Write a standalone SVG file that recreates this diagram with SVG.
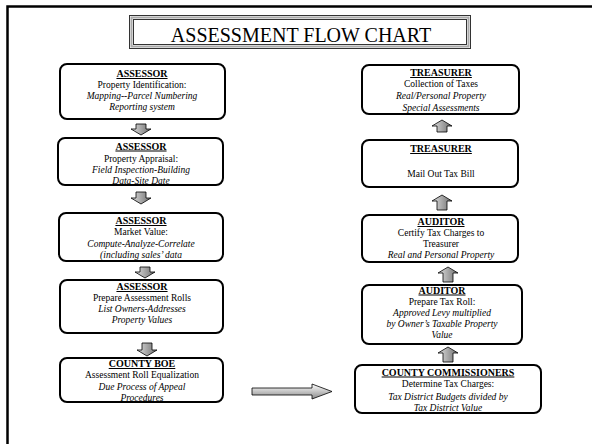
<svg xmlns="http://www.w3.org/2000/svg" width="592" height="444" viewBox="0 0 592 444">
  <style>
    .box { fill: #ffffff; stroke: #000000; stroke-width: 2; }
    .t { font-family: "Liberation Serif", "Times New Roman", serif; font-size: 9.5px; fill: #000000; text-anchor: middle; }
    .h { font-weight: bold; text-decoration: underline; font-size: 10px; }
    .i { font-style: italic; }
    .arrow { stroke: #000000; stroke-width: 0.8; }
  </style>
  <defs>
    <linearGradient id="gradV" x1="0" y1="0" x2="1" y2="0">
      <stop offset="0" stop-color="#e0e0e0"/>
      <stop offset="1" stop-color="#6e6e6e"/>
    </linearGradient>
    <linearGradient id="gradH" x1="0" y1="0" x2="0" y2="1">
      <stop offset="0" stop-color="#ffffff"/>
      <stop offset="1" stop-color="#8a8a8a"/>
    </linearGradient>
  </defs>

  <!-- page background and frame -->
  <rect x="0" y="0" width="592" height="444" fill="#ffffff"/>
  <path d="M7.5 444 V6.5 H592" fill="none" stroke="#000000" stroke-width="2.5"/>

  <!-- title banner -->
  <g id="title">
    <rect x="129.5" y="15.5" width="341" height="33" fill="#ffffff" stroke="#333333" stroke-width="1"/>
    <rect x="131.5" y="17.5" width="337" height="29" fill="none" stroke="#aaaaaa" stroke-width="2"/>
    <rect x="133.5" y="19.5" width="333" height="25" fill="none" stroke="#333333" stroke-width="1"/>
    <text x="301" y="42" font-family="Liberation Serif, Times New Roman, serif" font-size="20" text-anchor="middle">ASSESSMENT FLOW CHART</text>
  </g>

  <!-- left column: assessment steps -->
  <g id="assessor-identification">
    <rect class="box" x="60" y="64" width="165" height="55" rx="7"/>
    <text class="t h" x="142" y="77">ASSESSOR</text>
    <text class="t" x="142" y="88">Property Identification:</text>
    <text class="t i" x="142" y="99">Mapping--Parcel Numbering</text>
    <text class="t i" x="142" y="110">Reporting system</text>
  </g>
  <g id="assessor-appraisal">
    <rect class="box" x="58" y="138" width="165" height="47" rx="7"/>
    <text class="t h" x="141" y="149.5">ASSESSOR</text>
    <text class="t" x="141" y="161.5" font-size="10">Property Appraisal:</text>
    <text class="t i" x="141" y="173" font-size="10">Field Inspection-Building</text>
    <text class="t i" x="141" y="184" font-size="10">Data-Site Date</text>
  </g>
  <g id="assessor-market-value">
    <rect class="box" x="59" y="213" width="164" height="48" rx="7"/>
    <text class="t h" x="141" y="224">ASSESSOR</text>
    <text class="t" x="141" y="234.5">Market Value:</text>
    <text class="t i" x="141" y="247">Compute-Analyze-Correlate</text>
    <text class="t i" x="141" y="258">(including sales’ data</text>
  </g>
  <g id="assessor-rolls">
    <rect class="box" x="60" y="280" width="163" height="53" rx="7"/>
    <text class="t h" x="142" y="290">ASSESSOR</text>
    <text class="t" x="142" y="300.5" font-size="10.5">Prepare Assessment Rolls</text>
    <text class="t i" x="142" y="311.5" font-size="10.5">List Owners-Addresses</text>
    <text class="t i" x="142" y="323" font-size="10.5">Property Values</text>
  </g>
  <g id="county-boe">
    <rect class="box" x="60" y="358" width="163" height="44" rx="7"/>
    <text class="t h" x="142" y="367" font-size="9.5">COUNTY BOE</text>
    <text class="t" x="142" y="378" font-size="9.8">Assessment Roll Equalization</text>
    <text class="t i" x="142" y="390" font-size="9.8">Due Process of Appeal</text>
    <text class="t i" x="142" y="401" font-size="9.8">Procedures</text>
  </g>

  <!-- right column: tax steps -->
  <g id="treasurer-collection">
    <rect class="box" x="362" y="65" width="157" height="49" rx="7"/>
    <text class="t h" x="441" y="76" font-size="9.5">TREASURER</text>
    <text class="t" x="441" y="87" font-size="10">Collection of Taxes</text>
    <text class="t i" x="441" y="98.5">Real/Personal Property</text>
    <text class="t i" x="441" y="110.5">Special Assessments</text>
  </g>
  <g id="treasurer-bill">
    <rect class="box" x="362" y="140" width="156" height="47" rx="7"/>
    <text class="t h" x="441" y="152" font-size="9.5">TREASURER</text>
    <text class="t" x="441" y="176.5" font-size="10.5">Mail Out Tax Bill</text>
  </g>
  <g id="auditor-certify">
    <rect class="box" x="362" y="215" width="156" height="47" rx="7"/>
    <text class="t h" x="441" y="225">AUDITOR</text>
    <text class="t" x="441" y="235.5" font-size="10">Certify Tax Charges to</text>
    <text class="t" x="441" y="246.5" font-size="10">Treasurer</text>
    <text class="t i" x="441" y="258">Real and Personal Property</text>
  </g>
  <g id="auditor-roll">
    <rect class="box" x="362" y="285" width="160" height="59" rx="7"/>
    <text class="t h" x="442" y="293.5">AUDITOR</text>
    <text class="t" x="442" y="304.5" font-size="10">Prepare Tax Roll:</text>
    <text class="t i" x="442" y="315.5">Approved Levy multiplied</text>
    <text class="t i" x="442" y="327">by Owner’s Taxable Property</text>
    <text class="t i" x="442" y="338">Value</text>
  </g>
  <g id="county-commissioners">
    <rect class="box" x="355" y="365" width="186" height="48" rx="7"/>
    <text class="t h" x="448" y="375.5" font-size="8.6">COUNTY COMMISSIONERS</text>
    <text class="t" x="448" y="387" font-size="9">Determine Tax Charges:</text>
    <text class="t i" x="448" y="399.5" font-size="9.8">Tax District Budgets divided by</text>
    <text class="t i" x="448" y="411" font-size="9.8">Tax District Value</text>
  </g>

  <!-- block arrows between steps -->
  <g id="connectors">
    <!-- down the left column -->
    <path class="arrow" fill="url(#gradV)" d="M136 124 H146 V129 H151 L141 135 L131 129 H136 Z"/>
    <path class="arrow" fill="url(#gradV)" d="M136 192 H146 V198 H151 L141 204 L131 198 H136 Z"/>
    <path class="arrow" fill="url(#gradV)" d="M140 267 H150 V272 H155 L145 278 L135 272 H140 Z"/>
    <path class="arrow" fill="url(#gradV)" d="M142 343 H152 V350 H157 L147 356 L137 350 H142 Z"/>
    <!-- across to the commissioners -->
    <path class="arrow" fill="url(#gradH)" d="M252 388 H312 V384 L332 391.5 L312 399 V395 H252 Z"/>
    <!-- up the right column -->
    <path class="arrow" fill="url(#gradV)" d="M437 132 H447 V126 H452 L442 120 L432 126 H437 Z"/>
    <path class="arrow" fill="url(#gradV)" d="M437 210 H447 V201 H452 L442 195 L432 201 H437 Z"/>
    <path class="arrow" fill="url(#gradV)" d="M443 282 H453 V273 H458 L448 267 L438 273 H443 Z"/>
    <path class="arrow" fill="url(#gradV)" d="M443 362 H453 V353 H458 L448 347 L438 353 H443 Z"/>
  </g>
</svg>
